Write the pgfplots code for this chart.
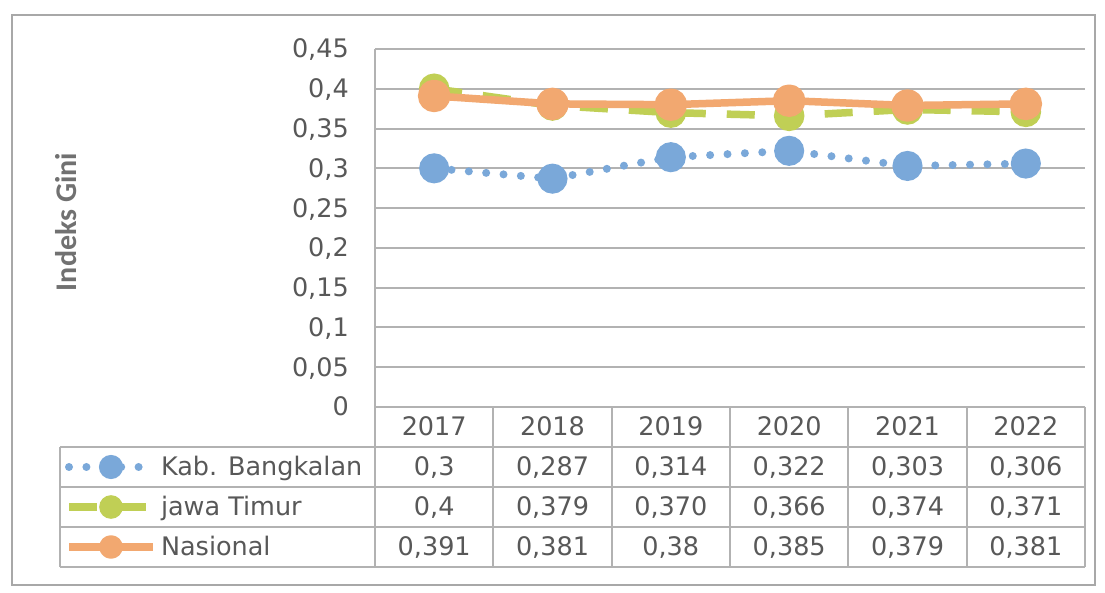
\documentclass[border=0pt]{standalone}
\usepackage{pgfplots}
\pgfplotsset{compat=1.18}
\usepackage{fontspec}
\setmainfont{DejaVu Sans}
\newfontfamily\labfont{Carlito}
\definecolor{cblue}{RGB}{122,168,217}
\definecolor{cgreen}{RGB}{192,207,85}
\definecolor{corange}{RGB}{242,168,112}
\definecolor{tcol}{RGB}{88,88,88}
\definecolor{gcol}{RGB}{178,178,178}
\definecolor{bcol}{RGB}{168,168,168}
\newcommand\tf{\fontsize{25.5}{30}\selectfont}
\begin{document}
\begin{tikzpicture}
\useasboundingbox (0pt,0pt) rectangle (1105pt,593pt);
\fill[white] (0pt,0pt) rectangle (1105pt,593pt);
% outer border
\draw[bcol, line width=2pt] (12pt,8pt) rectangle (1095pt,578pt);
\begin{axis}[
  at={(375pt,186pt)}, anchor=south west,
  scale only axis, width=710pt, height=358pt,
  xmin=-0.5, xmax=5.5, ymin=0, ymax=0.45,
  xtick=\empty,
  ytick={0,0.05,0.1,0.15,0.2,0.25,0.3,0.35,0.4,0.45},
  yticklabels={0,{0,05},{0,1},{0,15},{0,2},{0,25},{0,3},{0,35},{0,4},{0,45}},
  major tick length=0pt,
  ymajorgrids,
  grid style={gcol, line width=2pt},
  axis line style={draw=none},
  yticklabel style={font=\tf, text=tcol, anchor=east, inner sep=0pt, text height=18pt, text depth=0pt, xshift=-26pt},
  ylabel={Indeks Gini},
  every axis y label/.style={at={(axis description cs:-0.4352,0.5168)}, rotate=90, anchor=center, font=\labfont\bfseries\fontsize{30}{34}\selectfont, text=tcol!85},
  legend cell align=left,
  legend style={at={(axis description cs:-0.4366,-0.11173)}, anchor=north west, draw=none, fill=none, inner sep=0pt, outer sep=0pt, row sep=0pt, column sep=4pt, font=\tf, text=tcol, nodes={inner sep=0pt, minimum height=40pt, text height=18pt, text depth=0pt}},
  legend image code/.code={\draw[mark repeat=2, mark phase=2, #1, mark size=8pt] plot coordinates {(0pt,0pt) (42pt,0pt) (84pt,0pt)};},
]
\addplot[cblue, line width=8pt, line cap=round, dash pattern=on 0pt off 17.4pt, mark=*, mark size=11pt, mark options={solid, fill=cblue, draw=none}]
  coordinates {(0,0.3) (1,0.287) (2,0.314) (3,0.322) (4,0.303) (5,0.306)};
\addlegendentry{Kab. Bangkalan}
\addplot[cgreen, line width=7.5pt, dash pattern=on 28pt off 21pt, mark=*, mark size=11.5pt, mark options={solid, fill=cgreen, draw=none}]
  coordinates {(0,0.4) (1,0.379) (2,0.370) (3,0.366) (4,0.374) (5,0.371)};
\addlegendentry{jawa Timur}
\addplot[corange, line width=7.5pt, line join=round, mark=*, mark size=12.5pt, mark options={solid, fill=corange, draw=none}]
  coordinates {(0,0.391) (1,0.381) (2,0.38) (3,0.385) (4,0.379) (5,0.381)};
\addlegendentry{Nasional}
\end{axis}
% table grid
\begin{scope}[gcol, line width=2pt]
\draw (375pt,544pt) -- (375pt,26pt);
\draw (375pt,186pt) -- (1085pt,186pt);
\draw (60pt,146pt) -- (1085pt,146pt);
\draw (60pt,106pt) -- (1085pt,106pt);
\draw (60pt,66pt) -- (1085pt,66pt);
\draw (60pt,26pt) -- (1085pt,26pt);
\draw (60pt,146pt) -- (60pt,26pt);
\foreach \x in {493.3,611.7,730,848.3,966.7,1085} {\draw (\x pt,186pt) -- (\x pt,26pt);}
\end{scope}
\begin{scope}[every node/.style={font=\tf, text=tcol, inner sep=0pt, text height=18pt, text depth=0pt, anchor=center}]
\node at (434.2pt,166pt) {2017};
\node at (552.5pt,166pt) {2018};
\node at (670.8pt,166pt) {2019};
\node at (789.2pt,166pt) {2020};
\node at (907.5pt,166pt) {2021};
\node at (1025.8pt,166pt) {2022};
\node at (434.2pt,126pt) {0,3};
\node at (552.5pt,126pt) {0,287};
\node at (670.8pt,126pt) {0,314};
\node at (789.2pt,126pt) {0,322};
\node at (907.5pt,126pt) {0,303};
\node at (1025.8pt,126pt) {0,306};
\node at (434.2pt,86pt) {0,4};
\node at (552.5pt,86pt) {0,379};
\node at (670.8pt,86pt) {0,370};
\node at (789.2pt,86pt) {0,366};
\node at (907.5pt,86pt) {0,374};
\node at (1025.8pt,86pt) {0,371};
\node at (434.2pt,46pt) {0,391};
\node at (552.5pt,46pt) {0,381};
\node at (670.8pt,46pt) {0,38};
\node at (789.2pt,46pt) {0,385};
\node at (907.5pt,46pt) {0,379};
\node at (1025.8pt,46pt) {0,381};
\end{scope}
\end{tikzpicture}
\end{document}
